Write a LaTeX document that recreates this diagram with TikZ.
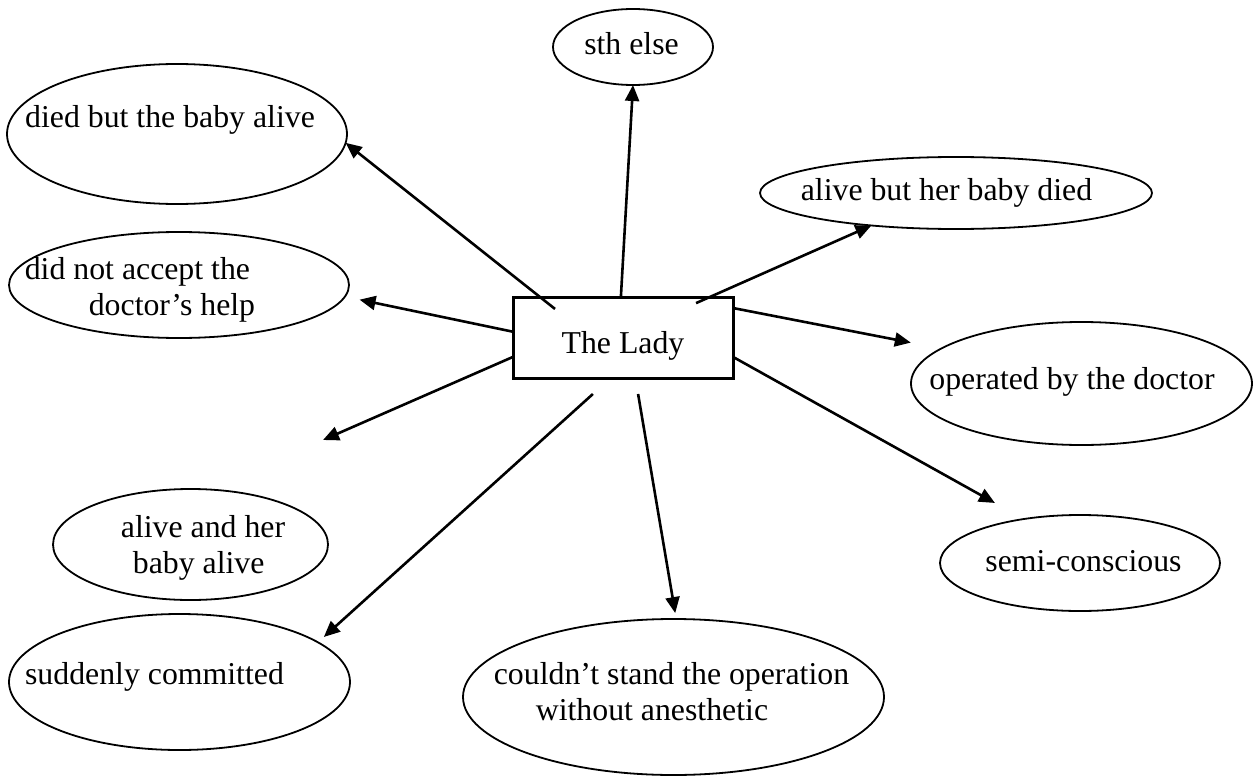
\documentclass[tikz,border=0pt]{standalone}
\usepackage{fontspec}
\setmainfont{Liberation Serif}
\usetikzlibrary{shapes,arrows.meta}

\begin{document}
\begin{tikzpicture}[x=1pt, y=-1pt, font=\fontsize{31.8}{36}\selectfont,
	oval/.style={ellipse, draw, line width=1.8pt, inner sep=0pt, outer sep=0pt},
	lbl/.style={align=left, inner sep=0pt},
	link/.style={draw, line width=2.6pt, -{Triangle[length=16pt, width=14pt]}}]
	\useasboundingbox (0,0) rectangle (1256,776);
	\node[rectangle, draw, line width=3pt, minimum width=220pt, minimum height=81pt, text height=38pt, text depth=7pt, outer sep=0pt](lady) at (623,337.5){The Lady};
	\node[oval, minimum width=160pt, minimum height=76pt, label={[lbl, xshift=-1.5pt, yshift=3.5pt]center:sth else}](sth) at (633,47){};
	\node[oval, minimum width=340pt, minimum height=140pt, label={[lbl, xshift=-7pt, yshift=14pt]center:died but the baby alive}](died) at (177,134){};
	\node[oval, minimum width=392pt, minimum height=72pt, label={[lbl, xshift=-9.5pt]center:alive but her baby died}](alivedied) at (956,193){};
	\node[oval, minimum width=340pt, minimum height=106pt, label={[lbl, xshift=-39pt, yshift=-5pt]center:{did not accept the\\\hspace*{64pt}doctor’s help}}](accept) at (179,285){};
	\node[oval, minimum width=341pt, minimum height=123pt, label={[lbl, xshift=-9.5pt, yshift=1.5pt]center:operated by the doctor}](operated) at (1081.5,383.5){};
	\node[oval, minimum width=275pt, minimum height=111pt, label={[lbl, xshift=12.5pt, yshift=-3.5pt]center:{alive and her\\\hspace*{12pt}baby alive}}](alivealive) at (190.5,544.5){};
	\node[oval, minimum width=280pt, minimum height=96pt, label={[lbl, xshift=3.5pt, yshift=1.5pt]center:semi-conscious}](semi) at (1080,563){};
	\node[oval, minimum width=341pt, minimum height=136pt, label={[lbl, xshift=-25pt, yshift=5pt]center:suddenly committed}](sudden) at (179.5,682){};
	\node[oval, minimum width=421pt, minimum height=156pt, label={[lbl, xshift=-2pt, yshift=5pt]center:{couldn’t stand the operation\\\hspace*{42pt}without anesthetic}}](couldnt) at (673.5,697){};
	\coordinate (blank) at (323,440);
	\path[link](lady.93)--(sth.south);
	\path[link, shorten <=-19.2pt](lady.154.3)--(died.-3);
	\path[link, shorten <=-15.1pt](lady.25.7)--(alivedied.201.5);
	\path[link, shorten >=15pt](lady.177)--(accept.-4);
	\path[link](lady.190)--(blank);
	\path[link, shorten >=31pt](lady.15.5)--(operated.166);
	\path[link, shorten >=33pt](lady.-10)--(semi.142);
	\path[link, shorten <=23.9pt, shorten >=8pt](lady.253.5)--(sudden.16.5);
	\path[link, shorten <=16.2pt, shorten >=6pt](lady.-73.2)--(couldnt.88);
\end{tikzpicture}
\end{document}
